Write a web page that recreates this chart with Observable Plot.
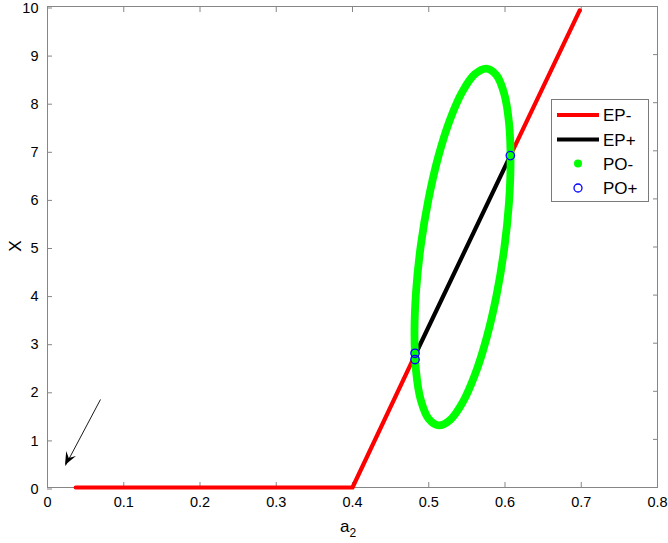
<!DOCTYPE html>
<html>
<head>
<meta charset="utf-8">
<script src="https://cdn.jsdelivr.net/npm/d3@7"></script>
<script src="https://cdn.jsdelivr.net/npm/@observablehq/plot@0.6"></script>
<style>
  html, body { margin: 0; padding: 0; background: #fff; }
  #chart { position: relative; width: 668px; height: 543px; }
</style>
</head>
<body>
<div id="chart"></div>
<script>
// ---- data ----
const xTicks = [0, 0.1, 0.2, 0.3, 0.4, 0.5, 0.6, 0.7, 0.8];
const yTicks = [0, 1, 2, 3, 4, 5, 6, 7, 8, 9, 10];

// EP- (red): two branches
const epMinusSeg = [0, 0, 0, 1, 1];
const epMinusX = [0.037, 0.400, 0.482, 0.607, 0.698];
const epMinusY = [0.00, 0.00, 2.75, 6.90, 9.92];

// EP+ (black)
const epPlusX = [0.482, 0.607];
const epPlusY = [2.75, 6.90];

// PO- (green closed orbit), points traced round the loop
const poMinusX = [0.6073, 0.6052, 0.5989, 0.5889, 0.5758, 0.5606, 0.5443, 0.5280, 0.5128, 0.4998, 0.4897, 0.4834,
                  0.4813, 0.4834, 0.4897, 0.4998, 0.5128, 0.5280, 0.5443, 0.5606, 0.5758, 0.5889, 0.5989, 0.6052];
const poMinusY = [6.816, 7.591, 8.190, 8.572, 8.710, 8.595, 8.236, 7.655, 6.894, 6.004, 5.045, 4.084,
                  3.184, 2.409, 1.810, 1.428, 1.290, 1.405, 1.764, 2.345, 3.106, 3.996, 4.955, 5.916];

// PO+ (blue open circles)
const poPlusX = [0.482, 0.482, 0.607];
const poPlusY = [2.79, 2.66, 6.90];

// annotation arrow
const arrowX1 = [0.0695], arrowY1 = [1.83], arrowX2 = [0.0236], arrowY2 = [0.457];

const legendLabels = ["EP-", "EP+", "PO-", "PO+"];

// ---- tables ----
const epMinus = epMinusX.map((x, i) => ({x, y: epMinusY[i], seg: epMinusSeg[i]}));
const epPlus = epPlusX.map((x, i) => ({x, y: epPlusY[i]}));
const poMinus = poMinusX.map((x, i) => ({x, y: poMinusY[i]}));
const poPlus = poPlusX.map((x, i) => ({x, y: poPlusY[i]}));
const arrows = arrowX1.map((x, i) => ({x1: x, y1: arrowY1[i], x2: arrowX2[i], y2: arrowY2[i]}));

const axisColor = "#868686";
const fmt = d => String(d);

const plot = Plot.plot({
  width: 668,
  height: 543,
  marginLeft: 47,
  marginRight: 11,
  marginTop: 6,
  marginBottom: 56,
  style: {fontFamily: "'Liberation Sans', Arial, Helvetica, sans-serif", fontSize: "14.5px", color: "#000", background: "#fff"},
  x: {domain: [0, 0.8]},
  y: {domain: [0, 10]},
  marks: [
    Plot.axisX({anchor: "bottom", ticks: xTicks, tickSize: -5, tickPadding: 14, tickFormat: fmt, label: null, stroke: axisColor, color: "#000"}),
    Plot.axisX({anchor: "top", ticks: xTicks, tickSize: -5, tickFormat: () => "", label: null, stroke: axisColor}),
    Plot.axisY({anchor: "left", ticks: yTicks, tickSize: -5, tickPadding: 14, tickFormat: fmt, label: null, stroke: axisColor, color: "#000", dy: 1.5}),
    Plot.axisY({anchor: "right", ticks: yTicks, tickSize: -5, tickFormat: () => "", label: null, stroke: axisColor}),
    Plot.frame({stroke: axisColor, strokeWidth: 1}),
    Plot.line(epMinus, {x: "x", y: "y", z: "seg", stroke: "#ff0000", strokeWidth: 4.2}),
    Plot.line(epPlus, {x: "x", y: "y", stroke: "#000000", strokeWidth: 4.2}),
    Plot.line(poMinus, {x: "x", y: "y", stroke: "#00ff00", strokeWidth: 7.8, curve: "catmull-rom-closed"}),
    Plot.dot(poPlus, {x: "x", y: "y", r: 4.2, stroke: "#0000ff", strokeWidth: 1.3, fill: "none"}),
    Plot.link(arrows, {x1: "x1", y1: "y1", x2: "x2", y2: "y2", stroke: "#000", strokeWidth: 0.9})
  ]
});

document.getElementById("chart").appendChild(plot);

// ---- axis labels, arrow head and legend ----
const svg = d3.select(plot);
const font = "'Liberation Sans', Arial, Helvetica, sans-serif";
const sx = plot.scale("x"), sy = plot.scale("y");

// filled MATLAB-style arrow head at the arrow's end, placed through the plot scales
arrows.forEach(a => {
  const tx = sx.apply(a.x2), ty = sy.apply(a.y2);
  const fx = sx.apply(a.x1), fy = sy.apply(a.y1);
  const len = Math.hypot(tx - fx, ty - fy);
  const ux = (tx - fx) / len, uy = (ty - fy) / len;
  const px = -uy, py = ux;
  const L = 13, W = 5.5, N = 8;
  const pts = [
    [tx, ty],
    [tx - ux * L + px * W, ty - uy * L + py * W],
    [tx - ux * N, ty - uy * N],
    [tx - ux * L - px * W, ty - uy * L - py * W]
  ];
  svg.append("path").attr("d", "M" + pts.map(p => p.join(",")).join("L") + "Z").attr("fill", "#000");
});

// y label
svg.append("text")
  .attr("transform", "translate(15,246) rotate(-90)")
  .attr("text-anchor", "middle").attr("dy", "0.35em")
  .attr("font-family", font).attr("font-size", 17).attr("fill", "#000")
  .text("X");

// x label a_2
const xl = svg.append("text")
  .attr("x", 348).attr("y", 532)
  .attr("text-anchor", "middle")
  .attr("font-family", font).attr("font-size", 17).attr("fill", "#000");
xl.append("tspan").text("a");
xl.append("tspan").attr("dy", 5).attr("font-size", 12).text("2");

// legend
const lg = svg.append("g").attr("text-anchor", "start");
lg.append("rect").attr("x", 551.5).attr("y", 99.5).attr("width", 97).attr("height", 102)
  .attr("fill", "#fff").attr("stroke", "#7a7a7a").attr("stroke-width", 1);
const rowY = [115, 139.5, 163.5, 188];
const rows = lg.selectAll("g.row").data(legendLabels).join("g").attr("class", "row")
  .attr("transform", (d, i) => `translate(0,${rowY[i]})`);
rows.filter((d, i) => i === 0).append("line").attr("x1", 557).attr("x2", 599).attr("stroke", "#ff0000").attr("stroke-width", 4.2);
rows.filter((d, i) => i === 1).append("line").attr("x1", 557).attr("x2", 599).attr("stroke", "#000").attr("stroke-width", 4.2);
rows.filter((d, i) => i === 2).append("circle").attr("cx", 578).attr("r", 4).attr("fill", "#00ff00");
rows.filter((d, i) => i === 3).append("circle").attr("cx", 578).attr("r", 4).attr("fill", "none").attr("stroke", "#0000ff").attr("stroke-width", 1.3);
rows.append("text").attr("x", 603).attr("dy", "0.36em").attr("text-anchor", "start")
  .attr("font-family", font).attr("font-size", 17).attr("fill", "#000")
  .text(d => d);
</script>
</body>
</html>
